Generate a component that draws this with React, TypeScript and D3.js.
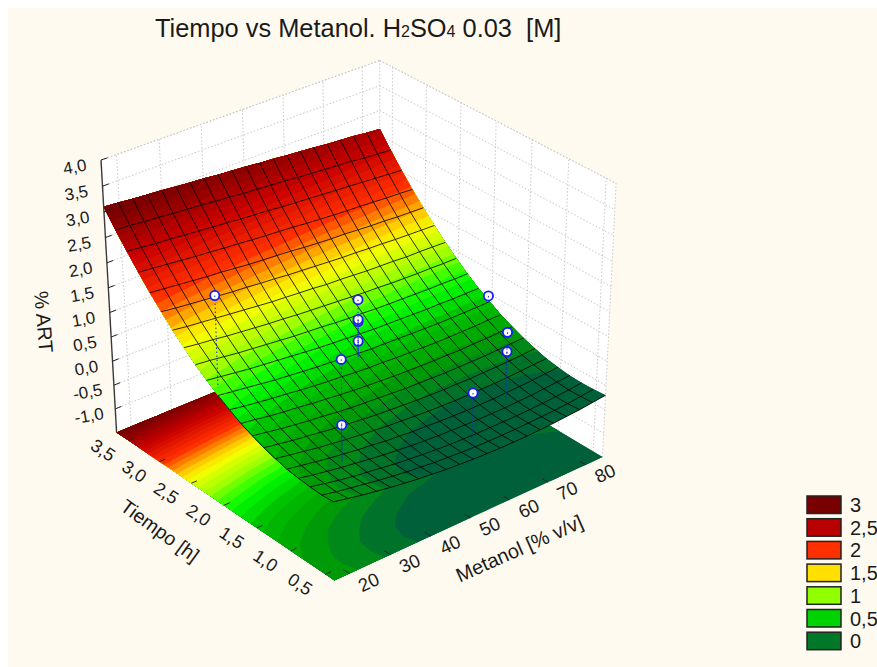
import React from "react";
import * as d3 from "d3";

const W = 877;
const H = 667;

const metanolTicks = [20, 30, 40, 50, 60, 70, 80];
const tiempoTicks = [0.5, 1, 1.5, 2, 2.5, 3, 3.5];
const artTicks = [-1, -0.5, 0, 0.5, 1, 1.5, 2, 2.5, 3, 3.5, 4];
const metanolDomain = [16.4, 84.5];
const tiempoDomain = [0.37, 3.69];
const artDomain = [-1.5, 4];

// fitted surface, one row per tiempo step, front to back
const row00 = [0.10, 0.04, -0.02, -0.07, -0.12, -0.16, -0.20, -0.23, -0.26, -0.28, -0.30, -0.31, -0.32, -0.32, -0.32, -0.31, -0.30, -0.28, -0.26, -0.23, -0.20];
const row01 = [0.08, 0.02, -0.03, -0.08, -0.13, -0.17, -0.21, -0.24, -0.27, -0.29, -0.31, -0.32, -0.33, -0.33, -0.33, -0.32, -0.31, -0.30, -0.28, -0.25, -0.22];
const row02 = [0.09, 0.03, -0.03, -0.08, -0.12, -0.16, -0.20, -0.23, -0.26, -0.28, -0.30, -0.31, -0.32, -0.32, -0.32, -0.32, -0.31, -0.30, -0.28, -0.26, -0.23];
const row03 = [0.11, 0.05, 0.00, -0.05, -0.09, -0.13, -0.17, -0.20, -0.23, -0.25, -0.27, -0.28, -0.29, -0.30, -0.30, -0.30, -0.29, -0.28, -0.26, -0.24, -0.22];
const row04 = [0.14, 0.09, 0.04, -0.01, -0.05, -0.09, -0.12, -0.16, -0.18, -0.21, -0.22, -0.24, -0.25, -0.26, -0.26, -0.26, -0.25, -0.24, -0.23, -0.21, -0.19];
const row05 = [0.20, 0.15, 0.10, 0.05, 0.01, -0.03, -0.06, -0.09, -0.12, -0.14, -0.16, -0.18, -0.19, -0.20, -0.20, -0.20, -0.20, -0.19, -0.18, -0.16, -0.15];
const row06 = [0.27, 0.22, 0.17, 0.13, 0.09, 0.05, 0.02, -0.01, -0.04, -0.06, -0.08, -0.10, -0.11, -0.12, -0.12, -0.13, -0.12, -0.12, -0.11, -0.10, -0.08];
const row07 = [0.36, 0.31, 0.26, 0.22, 0.18, 0.15, 0.11, 0.08, 0.06, 0.04, 0.02, 0.00, -0.01, -0.02, -0.03, -0.03, -0.03, -0.03, -0.02, -0.01, 0.00];
const row08 = [0.46, 0.42, 0.37, 0.33, 0.30, 0.26, 0.23, 0.20, 0.17, 0.15, 0.13, 0.11, 0.10, 0.09, 0.08, 0.08, 0.07, 0.08, 0.08, 0.09, 0.10];
const row09 = [0.59, 0.54, 0.50, 0.46, 0.43, 0.39, 0.36, 0.33, 0.31, 0.28, 0.26, 0.25, 0.23, 0.22, 0.21, 0.20, 0.20, 0.20, 0.20, 0.21, 0.21];
const row10 = [0.73, 0.69, 0.65, 0.61, 0.57, 0.54, 0.51, 0.48, 0.46, 0.43, 0.41, 0.39, 0.38, 0.37, 0.36, 0.35, 0.34, 0.34, 0.34, 0.34, 0.35];
const row11 = [0.89, 0.85, 0.81, 0.77, 0.74, 0.71, 0.68, 0.65, 0.62, 0.60, 0.58, 0.56, 0.54, 0.53, 0.52, 0.51, 0.50, 0.50, 0.49, 0.49, 0.49];
const row12 = [1.06, 1.03, 0.99, 0.95, 0.92, 0.89, 0.86, 0.83, 0.81, 0.79, 0.76, 0.74, 0.73, 0.71, 0.70, 0.69, 0.68, 0.67, 0.67, 0.66, 0.66];
const row13 = [1.26, 1.22, 1.19, 1.15, 1.12, 1.09, 1.06, 1.04, 1.01, 0.99, 0.97, 0.95, 0.93, 0.91, 0.90, 0.88, 0.87, 0.86, 0.86, 0.85, 0.85];
const row14 = [1.47, 1.43, 1.40, 1.37, 1.34, 1.31, 1.28, 1.25, 1.23, 1.21, 1.19, 1.16, 1.15, 1.13, 1.11, 1.10, 1.09, 1.07, 1.07, 1.06, 1.05];
const row15 = [1.70, 1.66, 1.63, 1.60, 1.57, 1.54, 1.52, 1.49, 1.47, 1.44, 1.42, 1.40, 1.38, 1.36, 1.35, 1.33, 1.32, 1.30, 1.29, 1.28, 1.27];
const row16 = [1.94, 1.91, 1.88, 1.85, 1.82, 1.80, 1.77, 1.74, 1.72, 1.70, 1.68, 1.65, 1.63, 1.61, 1.60, 1.58, 1.56, 1.55, 1.53, 1.52, 1.51];
const row17 = [2.21, 2.18, 2.15, 2.12, 2.09, 2.07, 2.04, 2.02, 1.99, 1.97, 1.95, 1.93, 1.90, 1.88, 1.86, 1.84, 1.83, 1.81, 1.79, 1.78, 1.76];
const row18 = [2.49, 2.46, 2.43, 2.41, 2.38, 2.36, 2.33, 2.31, 2.28, 2.26, 2.24, 2.21, 2.19, 2.17, 2.15, 2.13, 2.11, 2.09, 2.07, 2.05, 2.03];
const row19 = [2.78, 2.76, 2.73, 2.71, 2.68, 2.66, 2.64, 2.61, 2.59, 2.56, 2.54, 2.52, 2.50, 2.47, 2.45, 2.43, 2.41, 2.39, 2.36, 2.34, 2.32];
const row20 = [3.10, 3.08, 3.05, 3.03, 3.01, 2.98, 2.96, 2.94, 2.91, 2.89, 2.87, 2.84, 2.82, 2.79, 2.77, 2.75, 2.72, 2.70, 2.68, 2.65, 2.63];
const surface = [row00, row01, row02, row03, row04, row05, row06, row07, row08, row09, row10, row11, row12, row13, row14, row15, row16, row17, row18, row19, row20];

// observed runs
const obsMetanol = [17.5, 84.5, 50, 28, 28, 69, 69, 50, 50, 50, 50];
const obsTiempo = [2.1, 2.05, 0.37, 0.94, 0.94, 0.94, 0.94, 2, 2, 2, 2];
const obsArt = [2.6, 0.45, 1.05, 0.69, 1.98, 0.74, 1.13, 0.7, 1.1, 1.14, 1.54];

const legendValues = [3, 2.5, 2, 1.5, 1, 0.5, 0];
const legendLabels = ["3", "2,5", "2", "1,5", "1", "0,5", "0"];
const legendColors = ["#780000", "#b80000", "#ff3000", "#ffe000", "#90ff00", "#00d400", "#007828"];

const rampStops = [-0.4, -0.24, -0.18, -0.1, 0, 0.1, 0.34, 0.45, 0.6, 0.75, 0.95, 1.25, 1.4, 1.85, 2.4, 3, 3.6];
const rampColors = ["#00603a", "#00603a", "#006a30", "#008020", "#009010", "#00a400", "#00c000", "#00dc00", "#00f800", "#40ff00", "#a0ff00", "#f0ff00", "#ffe000", "#ff3000", "#c80000", "#780000", "#700000"];
const color = d3.scaleLinear<string>().domain(rampStops).range(rampColors).clamp(true);
const bands = d3.range(-0.4, 3.3, 0.1);

// unit box corners (metanol, tiempo, art) and where they fall on the page
const boxAnchors = [
  [0, 0, 0, 334, 581],
  [1, 0, 0, 602, 456],
  [0, 1, 0, 116, 432],
  [1, 1, 0, 381, 325],
  [0, 1, 1, 102, 160],
  [1, 0, 1, 617, 184],
  [1, 1, 1, 378, 60],
];

function fitProjection(anchors: number[][]) {
  const rows: number[][] = [];
  anchors.forEach(([u, v, w, x, y]) => {
    const px = x / 1000;
    const py = y / 1000;
    rows.push([u, v, w, 1, 0, 0, 0, 0, -px * u, -px * v, -px * w, px]);
    rows.push([0, 0, 0, 0, u, v, w, 1, -py * u, -py * v, -py * w, py]);
  });
  const n = 11;
  const m = d3.range(n).map((a) =>
    d3.range(n + 1).map((b) => d3.sum(rows, (r) => r[a] * r[b]))
  );
  for (let c = 0; c < n; c++) {
    let best = c;
    for (let r = c + 1; r < n; r++) if (Math.abs(m[r][c]) > Math.abs(m[best][c])) best = r;
    [m[c], m[best]] = [m[best], m[c]];
    for (let r = 0; r < n; r++) {
      if (r === c) continue;
      const f = m[r][c] / m[c][c];
      for (let k = c; k <= n; k++) m[r][k] -= f * m[c][k];
    }
  }
  return d3.range(n).map((i) => m[i][n] / m[i][i]);
}

const P = fitProjection(boxAnchors);

function project(u: number, v: number, w: number): [number, number] {
  const d = P[8] * u + P[9] * v + P[10] * w + 1;
  return [
    (1000 * (P[0] * u + P[1] * v + P[2] * w + P[3])) / d,
    (1000 * (P[4] * u + P[5] * v + P[6] * w + P[7])) / d,
  ];
}

const uScale = d3.scaleLinear().domain(metanolDomain).range([0, 1]);
const vScale = d3.scaleLinear().domain(tiempoDomain).range([0, 1]);
const wScale = d3.scaleLinear().domain(artDomain).range([0, 1]);

const N = row00.length - 1;

function surfaceAt(u: number, v: number) {
  const x = Math.max(0, Math.min(N, u * N));
  const y = Math.max(0, Math.min(N, v * N));
  const i = Math.min(N - 1, Math.floor(x));
  const j = Math.min(N - 1, Math.floor(y));
  const fx = x - i;
  const fy = y - j;
  return (
    surface[j][i] * (1 - fx) * (1 - fy) +
    surface[j][i + 1] * fx * (1 - fy) +
    surface[j + 1][i] * (1 - fx) * fy +
    surface[j + 1][i + 1] * fx * fy
  );
}

const line = d3.line();
const contours = d3.contours().size([N + 1, N + 1]).thresholds(bands)(surface.flat());

function bandPath(c: d3.ContourMultiPolygon, place: (u: number, v: number) => [number, number]) {
  return c.coordinates
    .flat()
    .map((ring) =>
      line(
        ring.map(([x, y]) => {
          const u = Math.max(0, Math.min(1, (x - 0.5) / N));
          const v = Math.max(0, Math.min(1, (y - 0.5) / N));
          return place(u, v);
        })
      ) + "Z"
    )
    .join("");
}

const comma = (d: number) => d.toFixed(1).replace(".", ",");
const gridStyle = { stroke: "#c8c8c8", strokeWidth: 1, strokeDasharray: "1.5 2", fill: "none" };
const font = "'Liberation Sans', Arial, sans-serif";

function seg(a: [number, number], b: [number, number]) {
  return line([a, b]) as string;
}

export default function App() {
  const unit = d3.range(N + 1).map((i) => i / N);
  const textFill = "#1a1a1a";

  return (
    <svg
      width={W - 8}
      height={H - 8}
      viewBox={`8 8 ${W - 8} ${H - 8}`}
      style={{ position: "absolute", left: 8, top: 8, background: "#fffaf0" }}
      fontFamily={font}
    >
      <text x={155} y={37} fontSize={25.4} fill={textFill}>
        Tiempo vs Metanol. H<tspan fontSize={16}>2</tspan>SO<tspan fontSize={16}>4</tspan> 0.03{"\u00a0\u00a0"}[M]
      </text>

      {/* back walls */}
      <path d={line([project(0, 1, 0), project(0, 1, 1), project(1, 1, 1), project(1, 1, 0)]) + "Z"} fill="#fff" />
      <path d={line([project(1, 1, 0), project(1, 1, 1), project(1, 0, 1), project(1, 0, 0)]) + "Z"} fill="#fff" />
      {artTicks.map((t) => (
        <g key={t}>
          <path d={seg(project(0, 1, wScale(t)), project(1, 1, wScale(t)))} {...gridStyle} />
          <path d={seg(project(1, 1, wScale(t)), project(1, 0, wScale(t)))} {...gridStyle} />
        </g>
      ))}
      {metanolTicks.map((t) => (
        <path key={t} d={seg(project(uScale(t), 1, 0), project(uScale(t), 1, 1))} {...gridStyle} />
      ))}
      {tiempoTicks.map((t) => (
        <path key={t} d={seg(project(1, vScale(t), 0), project(1, vScale(t), 1))} {...gridStyle} />
      ))}
      <path d={seg(project(1, 1, 0), project(1, 1, 1))} {...gridStyle} />
      <path d={seg(project(1, 0, 0), project(1, 0, 1))} {...gridStyle} />
      <path d={seg(project(0, 1, 1), project(1, 1, 1))} {...gridStyle} />
      <path d={seg(project(1, 1, 1), project(1, 0, 1))} {...gridStyle} />

      {/* contour map on the floor */}
      {contours.map((c) => (
        <path
          key={c.value}
          d={bandPath(c, (u, v) => project(u, v, 0))}
          fill={color(c.value + 0.05)}
          fillRule="evenodd"
        />
      ))}

      {/* surface */}
      {contours.map((c) => (
        <path
          key={c.value}
          d={bandPath(c, (u, v) => project(u, v, wScale(surfaceAt(u, v))))}
          fill={color(c.value + 0.05)}
          fillRule="evenodd"
        />
      ))}
      <g fill="none" stroke="#000" strokeOpacity={0.8} strokeWidth={1}>
        {unit.slice(0, N).map((v, j) => (
          <path key={j} d={line(surface[j].map((z, i) => project(unit[i], v, wScale(z)))) as string} />
        ))}
        {unit.slice(1, N).map((u, i) => (
          <path key={i} d={line(surface.map((row, j) => project(u, unit[j], wScale(row[i + 1])))) as string} />
        ))}
        <path d={line(surface.slice(0, 11).map((row, j) => project(0, unit[j], wScale(row[0])))) as string} />
      </g>

      {/* observed points and their spikes to the surface */}
      {obsArt.map((a, k) => {
        const p = project(uScale(obsMetanol[k]), vScale(obsTiempo[k]), wScale(a));
        return <circle key={k} cx={p[0]} cy={p[1]} r={4.6} fill="#fff" stroke="#1a1aff" strokeWidth={1.8} />;
      })}
      {obsArt.map((a, k) => {
        const u = uScale(obsMetanol[k]);
        const v = vScale(obsTiempo[k]);
        return (
          <path
            key={k}
            d={seg(project(u, v, wScale(a)), project(u, v, wScale(surfaceAt(u, v))))}
            stroke="#1a28c8"
            strokeWidth={1}
            strokeDasharray="1.5 2.5"
            fill="none"
          />
        );
      })}

      {/* art axis */}
      <path d={seg(project(0, 1, 0), project(0, 1, 1))} stroke="#3a3a3a" strokeWidth={1.4} fill="none" />
      {artTicks.map((t) => {
        const p = project(0, 1, wScale(t));
        const q = project(0.022, 1, wScale(t));
        return (
          <g key={t}>
            <path d={seg(p, q)} stroke="#222" strokeWidth={1} />
            <text
              transform={`translate(${p[0] - 26},${p[1] + 8}) rotate(-10)`}
              textAnchor="middle"
              dominantBaseline="middle"
              fontSize={17}
              fill={textFill}
            >
              {comma(t)}
            </text>
          </g>
        );
      })}
      <text transform="translate(42,322) rotate(85)" textAnchor="middle" dominantBaseline="middle" fontSize={20} fill={textFill}>
        % ART
      </text>

      {/* tiempo axis */}
      {tiempoTicks.map((t) => {
        const p = project(0, vScale(t), 0);
        const q = project(0.02, vScale(t), 0);
        return (
          <g key={t}>
            <path d={seg(p, q)} stroke="#222" strokeWidth={1} />
            <text
              transform={`translate(${p[0] - 26},${p[1] + 11}) rotate(33)`}
              textAnchor="middle"
              dominantBaseline="middle"
              fontSize={18}
              fill={textFill}
            >
              {comma(t)}
            </text>
          </g>
        );
      })}
      <text transform="translate(159,532) rotate(36)" textAnchor="middle" dominantBaseline="middle" fontSize={19.5} fill={textFill}>
        Tiempo [h]
      </text>

      {/* metanol axis */}
      {metanolTicks.map((t) => {
        const p = project(uScale(t), 0, 0);
        const q = project(uScale(t), 0.025, 0);
        return (
          <g key={t}>
            <path d={seg(p, q)} stroke="#222" strokeWidth={1} />
            <text
              transform={`translate(${p[0] + 20},${p[1] + 10}) rotate(-25)`}
              textAnchor="middle"
              dominantBaseline="middle"
              fontSize={18.5}
              fill={textFill}
            >
              {t}
            </text>
          </g>
        );
      })}
      <text transform="translate(520,550) rotate(-24)" textAnchor="middle" dominantBaseline="middle" fontSize={20} fill={textFill}>
        Metanol [% v/v]
      </text>

      {/* legend */}
      {legendValues.map((d, i) => (
        <g key={d} transform={`translate(807,${496 + i * 22.7})`}>
          <rect width={34} height={17.5} fill={legendColors[i]} stroke="#222" strokeWidth={1.5} />
          <text x={43} y={16} fontSize={20} fill={textFill}>
            {legendLabels[i]}
          </text>
        </g>
      ))}
    </svg>
  );
}
